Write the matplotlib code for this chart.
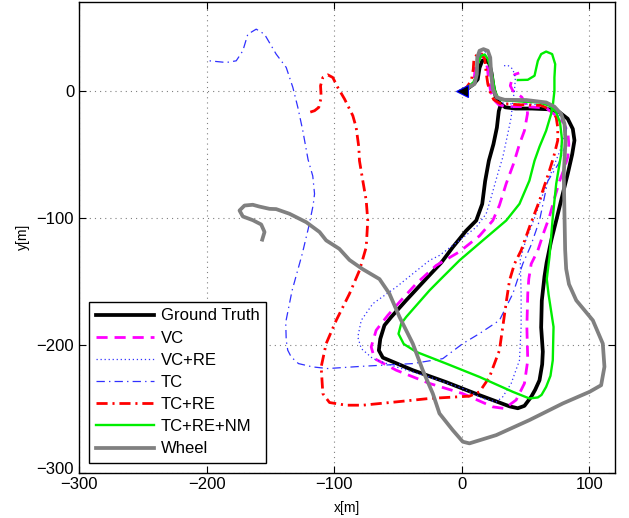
import matplotlib
matplotlib.use('Agg')
import matplotlib.pyplot as plt
import matplotlib.transforms as mtransforms

plt.rcParams['font.family'] = ['Liberation Sans', 'DejaVu Sans']
plt.rcParams['lines.scale_dashes'] = False

# Trajectories (x, y in metres)
gt_x = [0, 5, 9, 12.5, 13.9, 16, 18.6, 21.5, 23.3, 24.7,
        26.5, 29.5, 34, 42, 55, 68.7, 76.6, 83, 87, 88.3,
        86.5, 83.1, 77.9, 74, 70, 66.5, 64.8, 62.7, 62.2, 63.5,
        63, 60.9, 57.5, 54.4, 49.1, 43.9, 37.4, 12, -12.2, -38.4,
        -61.9, -65, -63.9, -60.6, -55.3, -43.6, -27.9, -16, -7.1, 3.4,
        11.3, 16, 18.3, 21.2, 24.8, 27.5, 29, 30.5]
gt_y = [0, 2, 5, 9, 18, 23.5, 24.2, 21.5, 14, 4,
        -4.5, -9.5, -13, -14, -14, -14.6, -17, -22, -30, -39,
        -50, -65, -86, -102, -118, -135, -146, -165, -186, -205,
        -215, -227.5, -235, -240.5, -247.6, -249.5, -248, -238.5, -229, -219.6,
        -209.7, -204, -195, -184.3, -177.8, -164.7, -147.7, -135, -123, -110,
        -102, -89, -71, -55, -42, -29, -16, -11]

vc_x = [0, 4, 8, 10, 10.5, 12.5, 15.5, 18.5, 20, 21,
        22.5, 25, 29, 35, 50, 66, 74, 79.7, 83.1, 83.9,
        83.1, 80, 76.6, 72.5, 68.7, 64, 59.6, 54.4, 52.5, 51.7,
        51, 51.7, 49.1, 42.6, 33.5, 24.3, 0.8, -25.3, -51.4, -68.4,
        -71, -67.1, -58, -48.8, -35.7, -20.1, -1.8, 13.9, 24.3, 29.5,
        34.8, 40.5, 45.2, 49.1, 51.5, 51, 47, 40, 38, 39.5,
        41.5, 45]
vc_y = [0, 2.5, 6, 12, 20, 25.5, 27, 25, 18, 9,
        0, -7, -11, -12.5, -12.5, -13.5, -19.6, -25, -32.7, -42,
        -52, -62, -71, -85, -99, -112, -125.5, -136, -148, -159.5,
        -185.6, -211.8, -230, -243, -249.7, -248.4, -238, -230, -219.6, -210.5,
        -201.3, -188.2, -176.5, -166, -151.6, -137.3, -126.5, -114, -102, -90,
        -73, -57.5, -42, -31.4, -18, -12, -5, 0, 4, 9.5,
        12.8, 14]

vcre_x = [0, 5, 9, 11.5, 12.5, 15, 18.5, 21.5, 23, 24,
          25.5, 28, 32, 40, 55, 68, 75, 79.5, 80.5, 77,
          71, 64, 57, 50, 45.8, 46.5, 46.5, 45.2, 38.7, 32.1,
          27, 16.5, 0.8, -25.3, -51.4, -69.7, -78.8, -81.5, -78.8, -69.7,
          -51.4, -38.4, -25.3, -17.5, -1.8, 11.3, 19.1, 23, 28.2, 32.1,
          36, 38.7, 40, 41.3, 42, 40, 36, 32]
vcre_y = [0, 3, 6.5, 12, 22, 29, 30.5, 28, 20, 10,
          0, -6, -9.5, -10.5, -10.5, -12, -17, -25, -34, -47,
          -62, -80, -100, -118, -133, -159.5, -185.6, -211.8, -230, -240.5,
          -244.5, -241.8, -234, -225, -217, -210.5, -202.6, -193.5, -180.4, -167.3,
          -154.3, -143.8, -133.3, -129.4, -117.6, -107.2, -96.7, -83.7, -65.3, -52.3,
          -34, -21, -8, 0, 10, 17, 20, 19.5]

tc_x = [0, 5, 9, 11.5, 12.5, 15, 18, 21, 22.5, 23.5,
        25, 28, 33, 50, 66, 74, 79, 82, 81.5, 76,
        67.4, 60.9, 54, 47.8, 40, 29.5, 13.9, 0.8, -14.9, -38.4,
        -77.6, -105, -117, -128, -133.7, -136.4, -137.6, -138, -133, -125,
        -120, -116.5, -115.4, -116.8, -120.5, -124.6, -128.5, -132.4, -137.6, -145.5,
        -154.6, -161.1, -167.7, -171.6, -176.8, -184.6, -197.7]
tc_y = [0, 3, 7, 13, 23, 30, 31.5, 29.5, 21, 10,
        0, -5.5, -8, -8.5, -10, -13.5, -20, -30, -42, -57,
        -71, -102, -122, -136, -159.5, -180.4, -190.8, -198.7, -210.5, -214.4,
        -216.5, -218.3, -217, -214.4, -209.2, -203.9, -196, -182, -157, -128,
        -107, -90, -81, -67, -54, -31.4, -13.1, 2.6, 18.3, 28.8,
        44.4, 48.4, 44.4, 31.4, 23.5, 22.2, 23.5]

tcre_x = [0, 4, 7.5, 9, 9.5, 12, 15.5, 18, 19, 20.4,
          22.5, 25, 30, 45, 62, 70, 74, 75.2, 75.2, 72,
          68.7, 60.9, 53, 46.5, 41.3, 37.4, 35, 32.1, 29.5, 25,
          21.7, 13.9, 6, -25.3, -51.4, -77.6, -90.6, -103.7, -108.9, -110.2,
          -106.3, -98.4, -88, -80.2, -74.9, -73.7, -74.9, -77.6, -80.2, -80.7,
          -82.8, -85.4, -91.9, -97.2, -101.1, -105, -108.9, -110.7, -110.2, -112.1,
          -115.4, -119.4]
tcre_y = [0, 3, 8, 17, 25, 28.5, 29, 25, 15, 5.3,
          -2, -7, -10, -11, -11.5, -15, -21, -29, -39, -52,
          -62.7, -86.3, -107.2, -125.5, -136, -149, -165, -185.6, -204, -216,
          -225, -236.6, -240, -241.8, -244.5, -247.1, -247.1, -245, -238, -217,
          -198.7, -180.4, -159.5, -141.2, -122.9, -102, -86.3, -70.6, -55, -44.4,
          -28.8, -19.6, -6.5, 2.6, 10.4, 12.5, 10.4, 3.9, -5.3, -13.1,
          -15.7, -17]

nm_x = [0, 5, 9, 11.5, 12.5, 15.2, 18, 20.4, 22.5, 24.3,
        26, 28, 31, 45.2, 60.9, 68.7, 74, 77, 78.5, 77.9,
        74, 71.3, 68.7, 66.6, 68, 71.9, 71.3, 69.5, 66.1, 62.5,
        59.6, 53, 40, 13.9, -12.2, -35.7, -45.5, -49.6, -47.5, -43.6,
        -25.3, -17.5, -1.8, 16.5, 34.8, 45.2, 53, 57, 60.9, 66.1,
        70, 71.5, 72.6, 72.6, 73.2, 70.8, 66.1, 62.2, 59.6, 57,
        51.7, 43.9]
nm_y = [0, 3, 6.5, 12, 21, 27.5, 28.5, 25, 18, 10,
        0, -4.5, -7.3, -8.4, -9.2, -11.8, -17, -25, -38, -49.7,
        -73, -99.4, -130.7, -148, -160, -185.6, -211.8, -224, -232.7, -239,
        -241, -241.8, -236.6, -224.9, -214.4, -205.2, -199, -191, -183, -177.8,
        -156.9, -149, -133.3, -117.6, -102, -88.9, -70.6, -55, -44, -31.4,
        -18.3, -10, 0, 10.4, 20.9, 28.8, 30.8, 28.8, 23.5, 11.8,
        8.6, 8.4]

wh_x = [0, 3.4, 6, 10, 11.8, 12.1, 13.9, 17, 20.4, 22.3,
        23, 24.3, 27.4, 33.5, 50.5, 66.1, 72.6, 77.9, 80.5, 81.3,
        80.5, 79.9, 80.5, 81, 81.8, 84, 89.7, 102.7, 110.5, 111.8,
        109.2, 100.1, 79.2, 53, 27, 6, 0.8, -7.1, -17.5, -22.7,
        -30.6, -38.4, -48.8, -56.7, -64.5, -78, -88, -96, -106.3, -111.5,
        -121.9, -135, -145.5, -150.7, -158.7, -163.8, -170.3, -174.2, -171.6, -163.8,
        -157.2, -154.6, -156.4]
wh_y = [0, 2, 3, 5.3, 13, 26, 31.4, 32.7, 31.4, 26,
        13, 1.3, -5.3, -7.1, -7.3, -9.2, -12.5, -18.3, -26, -39,
        -55, -65, -99, -125, -140, -152, -164.7, -180.4, -198.7, -216.9,
        -231.4, -236.6, -245.7, -258.8, -270.6, -277.1, -275.8, -266.7, -253.6, -238,
        -219.6, -198.7, -177.8, -159.5, -148, -140, -133, -124.2, -117.6, -111,
        -103.3, -96.7, -93, -92.8, -91, -89.6, -90.2, -94.1, -98.8, -101.7,
        -105.1, -111, -117]

labels = ['Ground Truth', 'VC', 'VC+RE', 'TC', 'TC+RE', 'TC+RE+NM', 'Wheel']
xticks = [-300, -200, -100, 0, 100]
yticks = [-300, -200, -100, 0]

fig = plt.figure(figsize=(6.29, 5.18), dpi=100)
ax = fig.add_axes([0.1256, 0.0878, 0.852, 0.909])

ax.plot(gt_x, gt_y, color='black', linewidth=2.7, label=labels[0])
ax.plot(vc_x, vc_y, color='#ff00ff', linewidth=2.0, dashes=(8, 5), label=labels[1])
ax.plot(vcre_x, vcre_y, color='#3030ff', linewidth=0.9, dashes=(0.9, 2.0), label=labels[2])
ax.plot(tc_x, tc_y, color='#3030ff', linewidth=0.9, dashes=(6, 3, 1, 3), label=labels[3])
ax.plot(tcre_x, tcre_y, color='#ff0000', linewidth=2.0, dashes=(8, 3.5, 1.5, 3.5), label=labels[4])
ax.plot(nm_x, nm_y, color='#00ee00', linewidth=1.7, label=labels[5])
ax.plot(wh_x, wh_y, color='#808080', linewidth=2.7, label=labels[6])

# start marker
ax.plot(gt_x[0], gt_y[0], marker='<', markersize=9, markerfacecolor='black',
        markeredgecolor='blue', markeredgewidth=0.8, linestyle='none')

ax.set_xlim(-300, 120)
ax.set_ylim(-300, 70)
ax.set_xticks(xticks)
ax.set_yticks(yticks)
ax.tick_params(direction='in', top=True, right=True, length=5, labelsize=12)
ax.grid(True, color='#808080', linewidth=0.8, dashes=(0.8, 2.9))
for s in ax.spines.values():
    s.set_linewidth(1.0)

ax.set_xlabel('x[m]', fontsize=10, labelpad=6)
ax.set_ylabel('y[m]', fontsize=10, labelpad=5)

# lift the bottom y tick label a little so it doesn't sit on the x one
fig.canvas.draw()
lab = ax.get_yticklabels()[0]
lab.set_transform(lab.get_transform() + mtransforms.ScaledTranslation(0, 3 / 72, fig.dpi_scale_trans))

leg = ax.legend(loc='lower left', bbox_to_anchor=(0.0187, 0.02), borderaxespad=0,
                fontsize=12, handlelength=3.5, handletextpad=0.4, labelspacing=0.43,
                borderpad=0.4, fancybox=False, framealpha=1, edgecolor='black')
leg.get_frame().set_linewidth(1.0)

plt.savefig('out.png', dpi=100)
